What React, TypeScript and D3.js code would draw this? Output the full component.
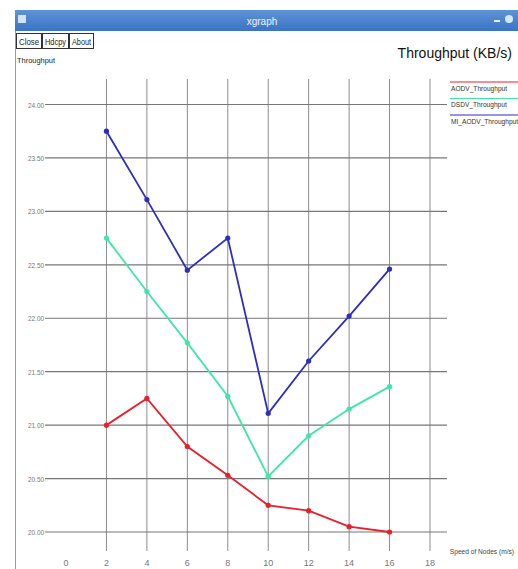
import React, { useEffect, useRef } from 'react';
import * as d3 from 'd3';

// speed of nodes (m/s) on the x axis
const speeds = [2, 4, 6, 8, 10, 12, 14, 16];

// throughput values (KB/s) per protocol
const aodvThroughput = [21.0, 21.25, 20.8, 20.53, 20.25, 20.2, 20.05, 20.0];
const dsdvThroughput = [22.75, 22.25, 21.77, 21.27, 20.52, 20.9, 21.15, 21.36];
const miAodvThroughput = [23.75, 23.11, 22.45, 22.75, 21.11, 21.6, 22.02, 22.46];

const seriesNames = ['AODV_Throughput', 'DSDV_Throughput', 'MI_AODV_Throughput'];
const seriesColors = ['#e8202c', '#3fe6a6', '#2e2ebe'];

const xTicks = [0, 2, 4, 6, 8, 10, 12, 14, 16, 18];
const yTicks = [20.0, 20.5, 21.0, 21.5, 22.0, 22.5, 23.0, 23.5, 24.0];

const App = () => {
  const svgRef = useRef<SVGSVGElement>(null);

  useEffect(() => {
    if (!svgRef.current) return;
    const svg = d3.select(svgRef.current);
    svg.selectAll('*').remove();

    const font = '"Liberation Sans", Arial, sans-serif';

    // window frame and title bar
    svg.append('rect').attr('x', 15).attr('y', 10).attr('width', 503).attr('height', 559).attr('fill', '#fff');
    svg.append('line').attr('x1', 15.5).attr('x2', 15.5).attr('y1', 10).attr('y2', 569).attr('stroke', '#9a9a9a');
    const defs = svg.append('defs');
    const grad = defs.append('linearGradient').attr('id', 'tb').attr('x1', 0).attr('x2', 0).attr('y1', 0).attr('y2', 1);
    grad.append('stop').attr('offset', '0%').attr('stop-color', '#5d93d6');
    grad.append('stop').attr('offset', '100%').attr('stop-color', '#3a74c4');
    svg.append('rect').attr('x', 15).attr('y', 10).attr('width', 503).attr('height', 21).attr('fill', 'url(#tb)');
    svg.append('rect').attr('x', 18).attr('y', 15).attr('width', 8).attr('height', 8).attr('fill', '#cfe2f7');
    svg.append('text').attr('x', 262).attr('y', 25).attr('text-anchor', 'middle')
      .attr('font-family', font).attr('font-size', 10).attr('fill', '#f0f4ff').text('xgraph');
    svg.append('rect').attr('x', 494).attr('y', 20).attr('width', 6).attr('height', 2).attr('fill', '#e8f0ff');
    svg.append('circle').attr('cx', 509).attr('cy', 19).attr('r', 4).attr('fill', '#d8e6fa');

    // buttons
    const buttons = [
      { label: 'Close', x: 16, w: 25 },
      { label: 'Hdcpy', x: 42, w: 26 },
      { label: 'About', x: 69, w: 24 },
    ];
    buttons.forEach(b => {
      svg.append('rect').attr('x', b.x + 0.5).attr('y', 33.5).attr('width', b.w).attr('height', 15)
        .attr('fill', '#fff').attr('stroke', '#333');
      svg.append('text').attr('x', b.x + 3).attr('y', 45)
        .attr('textLength', b.w - 5).attr('lengthAdjust', 'spacingAndGlyphs')
        .attr('font-family', font).attr('font-size', 9).attr('fill', '#222').text(b.label);
    });
    svg.append('text').attr('x', 17).attr('y', 63).attr('textLength', 38).attr('lengthAdjust', 'spacingAndGlyphs')
      .attr('font-family', font).attr('font-size', 8).attr('fill', '#222').text('Throughput');
    svg.append('text').attr('x', 512).attr('y', 58).attr('text-anchor', 'end')
      .attr('font-family', font).attr('font-size', 14).attr('fill', '#111').text('Throughput (KB/s)');

    // scales
    const x = d3.scaleLinear().domain([0, 18]).range([66, 430]);
    const y = d3.scaleLinear().domain([20, 24]).range([532, 104.5]);

    // grid
    const grid = svg.append('g');
    grid.selectAll('line.v').data(xTicks.filter(t => t > 0)).join('line')
      .attr('x1', d => x(d)).attr('x2', d => x(d)).attr('y1', 79).attr('y2', 551)
      .attr('stroke', '#8c8c8c').attr('stroke-width', 1);
    grid.selectAll('line.h').data(yTicks).join('line')
      .attr('x1', 45).attr('x2', 447).attr('y1', d => y(d)).attr('y2', d => y(d))
      .attr('stroke', '#777').attr('stroke-width', 1.2);

    // tick labels
    svg.append('g').selectAll('text').data(yTicks).join('text')
      .attr('x', 28).attr('y', d => y(d) + 3)
      .attr('textLength', 16).attr('lengthAdjust', 'spacingAndGlyphs')
      .attr('font-family', font).attr('font-size', 8).attr('fill', '#777')
      .text(d => d.toFixed(2));
    svg.append('g').selectAll('text').data(xTicks).join('text')
      .attr('x', d => x(d)).attr('y', 566).attr('text-anchor', 'middle')
      .attr('font-family', font).attr('font-size', 9).attr('fill', '#777')
      .text(d => String(d));
    svg.append('text').attr('x', 514).attr('y', 554).attr('text-anchor', 'end')
      .attr('font-family', font).attr('font-size', 6.6).attr('fill', '#444').text('Speed of Nodes (m/s)');

    // series
    const allSeries = [aodvThroughput, dsdvThroughput, miAodvThroughput];
    const line = d3.line<number>().x((_, i) => x(speeds[i])).y(d => y(d));
    allSeries.forEach((vals, si) => {
      const g = svg.append('g');
      g.append('path').datum(vals).attr('d', line).attr('fill', 'none')
        .attr('stroke', seriesColors[si]).attr('stroke-width', 1.8);
      g.selectAll('circle').data(vals).join('circle')
        .attr('cx', (_, i) => x(speeds[i])).attr('cy', d => y(d)).attr('r', 2.6)
        .attr('fill', seriesColors[si]);
    });

    // legend
    const legend = svg.append('g');
    seriesNames.forEach((name, i) => {
      const ly = 82 + i * 16.5;
      legend.append('line').attr('x1', 450).attr('x2', 518).attr('y1', ly).attr('y2', ly)
        .attr('stroke', seriesColors[i]).attr('stroke-width', 1.2);
      legend.append('text').attr('x', 451).attr('y', ly + 8.5)
        .attr('font-family', font).attr('font-size', 6.6).attr('fill', '#333').text(name);
    });
  }, []);

  return (
    <svg ref={svgRef} width={518} height={569}
      style={{ position: 'absolute', left: 0, top: 0, background: '#fff' }} />
  );
};

export default App;
